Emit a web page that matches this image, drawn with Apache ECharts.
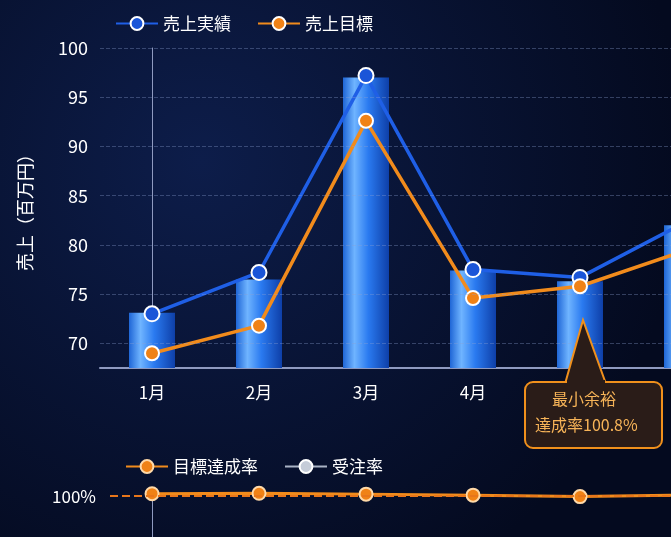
<!DOCTYPE html>
<html><head><meta charset="utf-8">
<script src="https://cdn.jsdelivr.net/npm/echarts@6/dist/echarts.min.js"></script>
<style>html,body{margin:0;padding:0;background:#060d26}#c{width:671px;height:537px}</style>
</head><body><div id="c"></div>
<script>
const categories = ['1月','2月','3月','4月','5月','6月'];
const barValues = [73.1, 76.5, 97.0, 77.4, 76.3, 82.0];
const actual = [73.0, 77.2, 97.2, 77.5, 76.7, 82.4];
const target = [69.0, 71.8, 92.6, 74.6, 75.8, 79.5];
const achieve = [100.6, 100.7, 100.5, 100.25, 99.9, 100.3];
const yTicks = [70, 75, 80, 85, 90, 95, 100];
const F = '"Noto Sans CJK JP", "Noto Sans", sans-serif';
const idx = categories.map((c, i) => i);
const pairs = arr => arr.map((v, i) => [i, v]);
const chart = echarts.init(document.getElementById('c'));
chart.setOption({
  backgroundColor: new echarts.graphic.RadialGradient(0.3, 0.3, 0.9, [{offset:0,color:'#0d1d4a'},{offset:1,color:'#040a1f'}]),
  legend: [
    {data:['売上実績','売上目標'], left: 110, top: 10, itemWidth: 42, itemHeight: 16, itemGap: 26,
     textStyle:{color:'#fff', fontSize:17, fontFamily:F}},
    {data:['目標達成率','受注率'], left: 120, top: 453, itemWidth: 42, itemHeight: 16, itemGap: 26,
     textStyle:{color:'#fff', fontSize:17, fontFamily:F}}
  ],
  grid: [
    {left: 100, top: 48, right: 0, height: 320},
    {left: 110, top: 488, right: 0, height: 150}
  ],
  xAxis: [
    {type:'value', gridIndex:0, min:-0.486, max:-0.486 + 571/107,
     axisLine:{show:true, onZero:false, lineStyle:{color:'#8f9ac0', width:2}}, axisTick:{show:false},
     splitLine:{show:false},
     axisLabel:{color:'#fff', fontSize:17, fontFamily:F, margin:16, customValues: idx,
       formatter: v => categories[Math.round(v)] || ''}},
    {type:'value', gridIndex:1, min:-0.393, max:-0.393 + 561/107,
     axisLine:{show:false}, axisTick:{show:false}, axisLabel:{show:false}, splitLine:{show:false}}
  ],
  yAxis: [
    {type:'value', gridIndex:0, min:67.5, max:100, interval:2.5,
     name:'売上（百万円）', nameLocation:'middle', nameGap:66, nameRotate:90,
     nameTextStyle:{color:'#fff', fontSize:18, fontFamily:F},
     axisLine:{show:true, lineStyle:{color:'#8f9ac0'}}, axisTick:{show:false},
     axisLabel:{color:'#fff', fontSize:18, fontFamily:F, margin:12,
       formatter: v => yTicks.includes(v) ? String(v) : ''},
     splitLine:{show:false}},
    {type:'value', gridIndex:1, min:90, max:102, interval:2,
     axisLine:{show:true, lineStyle:{color:'#8f9ac0'}}, axisTick:{show:false},
     axisLabel:{color:'#fff', fontSize:17, fontFamily:F, margin:14,
       formatter: v => v === 100 ? '100%' : ''},
     splitLine:{show:false}}
  ],
  series: [
    {type:'bar', data: pairs(barValues), barWidth: 46, xAxisIndex:0, yAxisIndex:0, z:1,
     itemStyle:{color: new echarts.graphic.LinearGradient(0,0,1,0,[
       {offset:0,color:'#1f66d6'},{offset:0.25,color:'#6fb4ff'},{offset:0.55,color:'#2a7af0'},{offset:1,color:'#0e3fa8'}])},
     markLine:{silent:true, symbol:'none', label:{show:false},
       lineStyle:{color:'rgba(140,160,210,0.35)', type:'dashed', width:1},
       data: yTicks.map(v => ({yAxis: v}))}},
    {name:'売上実績', type:'line', data: pairs(actual), xAxisIndex:0, yAxisIndex:0, z:3,
     symbol:'circle', symbolSize:15, lineStyle:{color:'#1f5fe6', width:3.5},
     itemStyle:{color:'#1a55d8', borderColor:'#fff', borderWidth:2}},
    {name:'売上目標', type:'line', data: pairs(target), xAxisIndex:0, yAxisIndex:0, z:4,
     symbol:'circle', symbolSize:14, lineStyle:{color:'#f18b1c', width:3.5},
     itemStyle:{color:'#f08216', borderColor:'#fff', borderWidth:2}},
    {name:'目標達成率', type:'line', data: pairs(achieve), xAxisIndex:1, yAxisIndex:1,
     symbol:'circle', symbolSize:13, lineStyle:{color:'#f18b1c', width:3},
     itemStyle:{color:'#f08216', borderColor:'#ffd9a8', borderWidth:2},
     markLine:{silent:true, symbol:'none', label:{show:false},
       lineStyle:{color:'#e8761a', type:'dashed', width:2}, data:[{yAxis:100}]}},
    {name:'受注率', type:'line', data: [], xAxisIndex:1, yAxisIndex:1,
     symbol:'circle', symbolSize:13, lineStyle:{color:'#aab3c5', width:3},
     itemStyle:{color:'#c5ccd8', borderColor:'#fff', borderWidth:2}}
  ],
  graphic: [
    {type:'polygon', z:10, shape:{points:[[583,320],[565,384],[606,384]]},
     style:{fill:'#2a1c18', stroke:'#f0901c', lineWidth:2}},
    {type:'rect', z:10, shape:{x:525, y:382, width:137, height:66, r:8},
     style:{fill:'#2a1c18', stroke:'#f0901c', lineWidth:2}},
    {type:'rect', z:11, shape:{x:567, y:380, width:38, height:6}, style:{fill:'#2a1c18'}},
    {type:'text', z:12, left:552, top:391, style:{text:'最小余裕', fill:'#f7b458', fontSize:16, fontFamily:F}},
    {type:'text', z:12, left:535, top:417, style:{text:'達成率100.8%', fill:'#f7b458', fontSize:16, fontFamily:F}}
  ]
});
</script></body></html>
